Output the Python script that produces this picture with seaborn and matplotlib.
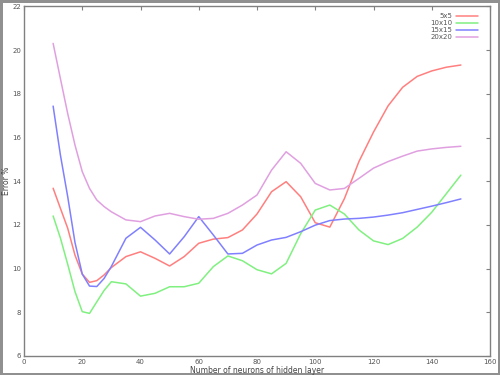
import matplotlib
matplotlib.use("Agg")
import matplotlib.pyplot as plt
import seaborn as sns
import pandas as pd
from matplotlib.lines import Line2D

neurons = [10, 12.5, 15, 17.5, 20, 22.5, 25, 27.5, 30, 35, 40, 45, 50, 55, 60, 65,
           70, 75, 80, 85, 90, 95, 100, 105, 110, 115, 120, 125, 130, 135, 140,
           145, 150]
series_names = ["5x5", "10x10", "15x15", "20x20"]

err_5x5 = [13.68, 12.76, 11.85, 10.62, 9.75, 9.37, 9.45, 9.71, 10.05, 10.55,
           10.77, 10.47, 10.12, 10.55, 11.16, 11.35, 11.42, 11.77, 12.5, 13.52,
           13.98, 13.29, 12.1, 11.9, 13.2, 14.9, 16.25, 17.45, 18.3, 18.8,
           19.05, 19.22, 19.32]
err_10x10 = [12.41, 11.4, 10.2, 8.95, 8.03, 7.95, 8.48, 9.0, 9.4, 9.3,
             8.74, 8.87, 9.17, 9.17, 9.33, 10.09, 10.58, 10.36, 9.95, 9.76,
             10.24, 11.6, 12.68, 12.91, 12.5, 11.77, 11.27, 11.1, 11.38, 11.9,
             12.58, 13.43, 14.28]
err_15x15 = [17.44, 15.2, 13.3, 11.2, 9.75, 9.2, 9.18, 9.55, 10.1, 11.39,
             11.89, 11.31, 10.67, 11.46, 12.38, 11.54, 10.67, 10.7, 11.08, 11.31,
             11.43, 11.69, 11.99, 12.2, 12.27, 12.3, 12.36, 12.45, 12.56, 12.71,
             12.86, 13.02, 13.19]
err_20x20 = [20.31, 18.7, 17.1, 15.66, 14.44, 13.67, 13.14, 12.84, 12.6, 12.23,
             12.15, 12.41, 12.53, 12.38, 12.26, 12.3, 12.53, 12.91, 13.37, 14.51,
             15.35, 14.82, 13.9, 13.6, 13.67, 14.13, 14.6, 14.9, 15.15, 15.38,
             15.48, 15.55, 15.6]

x_ticks = list(range(0, 161, 20))
y_ticks = list(range(6, 23, 2))

colors = {"5x5": "#ff7f7f", "10x10": "#80f080", "15x15": "#8080ff", "20x20": "#e0a0e0"}

frames = []
for name, vals in zip(series_names, [err_5x5, err_10x10, err_15x15, err_20x20]):
    frames.append(pd.DataFrame({"neurons": neurons, "error": vals, "series": name}))
df = pd.concat(frames, ignore_index=True)

sns.set_theme(style="white")
plt.rcParams["font.family"] = ["DejaVu Sans"]

fig = plt.figure(figsize=(5, 3.75), dpi=100, edgecolor="#909090", linewidth=2.5)
ax = fig.add_axes([0.048, 0.0507, 0.932, 0.932])

sns.lineplot(data=df, x="neurons", y="error", hue="series", palette=colors,
             hue_order=series_names, linewidth=1.1, ax=ax, legend=False)

ax.set_xlim(0, 160)
ax.set_ylim(6, 22)
ax.set_xticks(x_ticks)
ax.set_yticks(y_ticks)
ax.tick_params(axis="both", direction="in", length=3, width=0.8, color="#808080",
               labelsize=5, labelcolor="#555555", top=True, right=True, pad=2)
for s in ax.spines.values():
    s.set_color("#808080")
    s.set_linewidth(1.0)
    s.set_visible(True)

ax.set_xlabel("Number of neurons of hidden layer", fontsize=5.5, color="#444444", labelpad=1)
ax.set_ylabel("Error %", fontsize=5.5, color="#444444", labelpad=1)

handles = [Line2D([0], [0], color=colors[n], lw=1.1) for n in series_names]
leg = ax.legend(handles, series_names, loc="upper right", frameon=False, fontsize=5,
                markerfirst=False, handlelength=3.2, handletextpad=0.5,
                labelspacing=0.15, borderaxespad=0.3, bbox_to_anchor=(0.985, 0.995))
for t in leg.get_texts():
    t.set_color("#555555")

fig.savefig("out.png", dpi=100, edgecolor=fig.get_edgecolor())
